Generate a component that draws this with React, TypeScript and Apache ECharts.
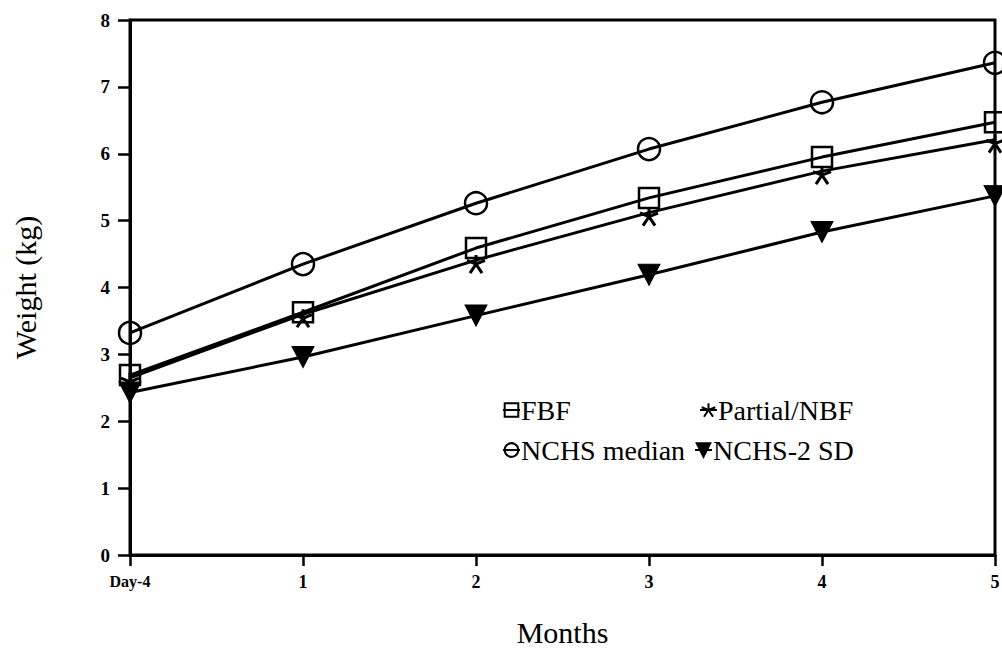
import React, { useEffect, useRef } from "react";
import * as echarts from "echarts";

const categories = ["Day-4", "1", "2", "3", "4", "5"];
const nchsMedian = [3.32, 4.35, 5.26, 6.07, 6.77, 7.36];
const fbf = [2.69, 3.63, 4.59, 5.34, 5.95, 6.47];
const partialNbf = [2.65, 3.6, 4.41, 5.12, 5.74, 6.21];
const nchs2sd = [2.43, 2.96, 3.58, 4.19, 4.83, 5.37];

const FONT = "'Liberation Serif', 'Times New Roman', 'DejaVu Serif', serif";
const starPath = "path://M5,0 L5,5 M5,5 L0.5,3 M5,5 L9.5,3 M5,5 L2,10 M5,5 L8,10";

export default function App() {
  const ref = useRef<HTMLDivElement>(null);
  useEffect(() => {
    const chart = echarts.init(ref.current!, undefined, { renderer: "svg" });
    const lineStyle = { color: "#000", width: 3 };
    const legendBase = {
      orient: "horizontal" as const,
      itemWidth: 17,
      itemHeight: 17,
      itemGap: 4,
      textStyle: { fontFamily: FONT, fontSize: 28, color: "#000", padding: [0, 0, 0, -4] },
      inactiveColor: "#000",
      selectedMode: false,
    };
    chart.setOption({
      animation: false,
      backgroundColor: "#fff",
      textStyle: { fontFamily: FONT },
      grid: {
        left: 130,
        right: 7,
        top: 20,
        bottom: 95,
        show: true,
        borderColor: "#000",
        borderWidth: 3,
        backgroundColor: "transparent",
        containLabel: false,
        outerBoundsMode: "none",
      },
      legend: [
        { ...legendBase, data: ["FBF"], left: 497, top: 391 },
        { ...legendBase, data: ["Partial/NBF"], left: 694, top: 391 },
        { ...legendBase, data: ["NCHS median"], left: 497, top: 431 },
        { ...legendBase, data: ["NCHS-2 SD"], left: 689, top: 431 },
      ],
      xAxis: {
        type: "category",
        data: categories,
        boundaryGap: false,
        name: "Months",
        nameLocation: "middle",
        nameGap: 62,
        nameTextStyle: { fontFamily: FONT, fontSize: 30, color: "#000" },
        axisLine: { lineStyle: { color: "#000", width: 3 } },
        axisTick: { show: true, length: 11, lineStyle: { color: "#000", width: 2.5 } },
        axisLabel: {
          margin: 18,
          fontFamily: FONT,
          fontWeight: "bold",
          fontSize: 18,
          color: "#000",
          formatter: (v: string) => (v === "Day-4" ? "{s|Day-4}" : v),
          rich: { s: { fontFamily: FONT, fontWeight: "bold", fontSize: 16, color: "#000" } },
        },
        splitLine: { show: false },
      },
      yAxis: {
        type: "value",
        min: 0,
        max: 8,
        interval: 1,
        name: "Weight (kg)",
        nameLocation: "middle",
        nameGap: 90,
        nameTextStyle: { fontFamily: FONT, fontSize: 30, color: "#000" },
        axisLine: { show: true, lineStyle: { color: "#000", width: 3 } },
        axisTick: { show: true, length: 12, lineStyle: { color: "#000", width: 2.5 } },
        axisLabel: { margin: 20, fontFamily: FONT, fontWeight: "bold", fontSize: 19, color: "#000" },
        splitLine: { show: false },
      },
      series: [
        {
          name: "NCHS median",
          type: "line",
          data: nchsMedian,
          symbol: "circle",
          symbolSize: 22,
          lineStyle,
          itemStyle: { color: "rgba(255,255,255,0)", borderColor: "#000", borderWidth: 2.5 },
          z: 2,
        },
        {
          name: "FBF",
          type: "line",
          data: fbf,
          symbol: "rect",
          symbolSize: 20,
          lineStyle,
          itemStyle: { color: "rgba(255,255,255,0)", borderColor: "#000", borderWidth: 2.5 },
          z: 3,
        },
        {
          name: "Partial/NBF",
          type: "line",
          data: partialNbf,
          symbol: starPath,
          symbolSize: [18, 18],
          symbolOffset: [0, 4],
          lineStyle,
          itemStyle: { color: "none", borderColor: "#000", borderWidth: 3 },
          z: 4,
        },
        {
          name: "NCHS-2 SD",
          type: "line",
          data: nchs2sd,
          symbol: "triangle",
          symbolRotate: 180,
          symbolSize: [22, 21],
          lineStyle,
          itemStyle: { color: "#000", borderColor: "#000", borderWidth: 1 },
          z: 5,
        },
      ],
    });
    return () => chart.dispose();
  }, []);
  return (
    <div
      ref={ref}
      style={{ position: "fixed", left: 0, top: 0, width: 1002, height: 650 }}
    />
  );
}
